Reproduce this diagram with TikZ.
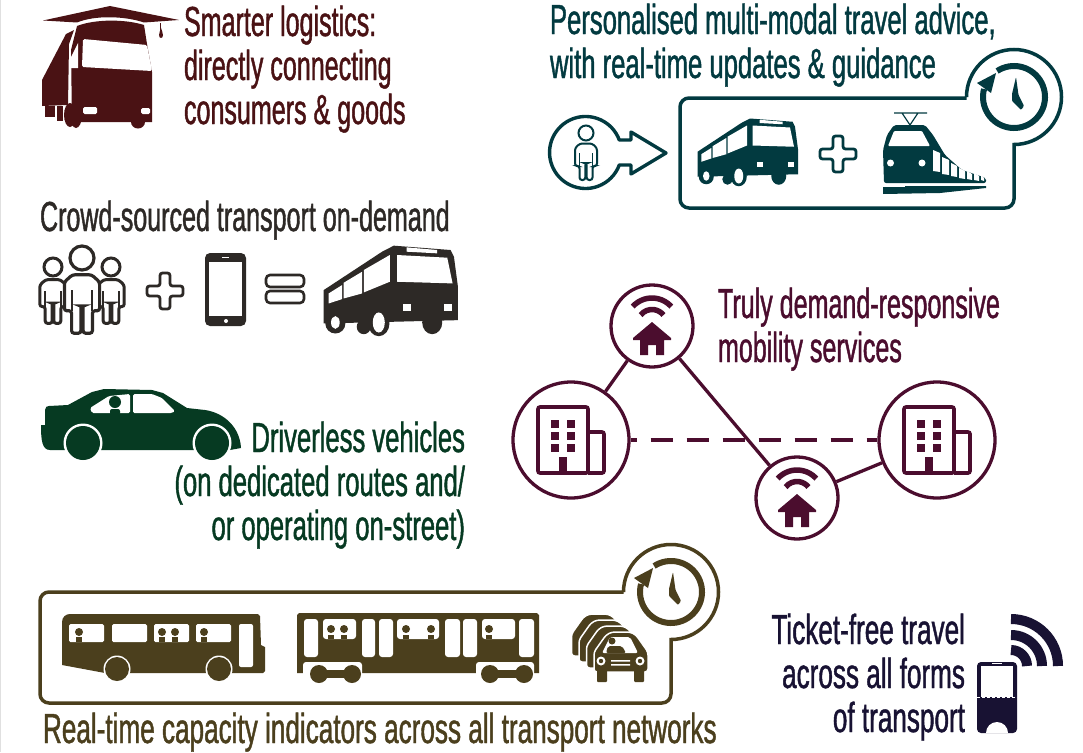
\documentclass[tikz,border=0pt]{standalone}
\usepackage{fontspec}
\setmainfont{Liberation Sans}
\newfontfamily\capfont[FakeStretch=0.61,FakeBold=1.0]{Liberation Sans}
\newfontfamily\capnarrow[FakeStretch=0.597,FakeBold=1.0]{Liberation Sans}
\newfontfamily\capwide[FakeStretch=0.622,FakeBold=1.0]{Liberation Sans}
\definecolor{truckc}{HTML}{4A1214}
\definecolor{tealc}{HTML}{023A40}
\definecolor{darkc}{HTML}{2D2926}
\definecolor{carc}{HTML}{063A22}
\definecolor{plumc}{HTML}{4B0D2E}
\definecolor{olivec}{HTML}{4B3F1D}
\definecolor{navyc}{HTML}{181233}
\tikzset{
 label/.style={font=\capfont\fontsize{42}{44}\selectfont,inner sep=0pt,outer sep=0pt},
 lblL/.style={label,align=left,anchor=base west},
 lblR/.style={label,align=right,anchor=base east},
 narrow/.style={font=\capnarrow\fontsize{42}{44}\selectfont},
 wide/.style={font=\capwide\fontsize{42}{44}\selectfont},
 bigc/.style={circle,draw=plumc,line width=3.3pt,fill=white,minimum size=116pt,inner sep=0pt},
 smallc/.style={circle,draw=plumc,line width=3.3pt,fill=white,minimum size=82pt,inner sep=0pt},
 link/.style={draw=plumc,line width=3.3pt},
}
% bus seen from three-quarter view
\newcommand{\busicon}[4]{%
 \begin{scope}[shift={(#1,#2)},scale=#3]
  \fill[#4] (2,135)--(177,20)--(212,2)--(382,15)--(392,35)--(404,125)--(404,225)--(2,235)--cycle;
  \fill[#4] (37,235) ellipse (30 and 30);
  \fill[#4] (122,245) ellipse (21 and 22);
  \fill[#4] (167,235) ellipse (32 and 38);
  \fill[#4] (327,232) ellipse (30 and 35);
  \fill[white] (37,232) ellipse (13 and 19);
  \fill[white] (167,232) ellipse (18 and 30);
  \fill[white] (222,30)--(372,38)--(388,115)--(222,110)--cycle;
  \fill[white] (200,30)--(200,110)--(122,142)--(122,75)--cycle;
  \fill[white] (117,80)--(117,145)--(62,160)--(62,113)--cycle;
  \fill[white] (57,120)--(57,162)--(17,175)--(17,145)--cycle;
  \fill[white] (250,7)--(342,15)--(342,25)--(250,20)--cycle;
  \fill[white] (239,177) rectangle (264,197);
  \fill[white] (362,177) rectangle (387,197);
 \end{scope}}
% clock badge
\newcommand{\clockicon}[3]{%
 \begin{scope}[shift={(#1,#2)}]
  \draw[#3,line width=6pt] (237:31) arc[start angle=237,end angle=555,radius=31];
  \fill[#3] (-18,-24)--(-37,-14)--(-23,-4)--cycle;
  \fill[#3,rounded corners=1pt] (2,-20)--(4.5,-2)--(10,9)--(7,13)--(-2,4)--(-2,-3)--cycle;
 \end{scope}}
\newcommand{\plusicon}[3]{%
 \draw[#3,line width=2.8pt,rounded corners=2.5pt,fill=white,shift={(#1,#2)}]
  (-5,-18)--(5,-18)--(5,-5)--(18,-5)--(18,5)--(5,5)--(5,18)--(-5,18)--(-5,5)--(-18,5)--(-18,-5)--(-5,-5)--cycle;}
% outlined person; origin at the head centre
\newcommand{\personicon}[5]{%
 \begin{scope}[shift={(#1,#2)},scale=#3]
  \draw[#4,line width=#5,fill=white,rounded corners=2.5pt]
   (-6,10.5)--(-11,15)--(-11,33)--(-6.5,33)--(-6.5,47)--(-.7,47)--(-.7,30)--(.7,30)--(.7,47)--(6.5,47)--(6.5,33)--(11,33)--(11,15)--(6,10.5)--cycle;
  \draw[#4,line width=#5,fill=white] (0,0) circle (7.5);
  \draw[#4,line width=.6*#5] (-6.5,20)--(-6.5,33) (6.5,20)--(6.5,33);
 \end{scope}}
\newcommand{\wifihouse}[2]{%
 \begin{scope}[shift={(#1,#2-2)}]
  \draw[plumc,line width=5.5pt] (222:26) arc[start angle=222,end angle=318,radius=26];
  \draw[plumc,line width=5.5pt] (218:14.5) arc[start angle=218,end angle=322,radius=14.5];
 \end{scope}
 \begin{scope}[shift={(#1,#2)}]
  \fill[plumc] (0,-4)--(19,12)--(19,14)--(12,14)--(12,29)--(4,29)--(4,19)--(-4,19)--(-4,29)--(-12,29)--(-12,14)--(-19,14)--(-19,12)--cycle;
 \end{scope}}
\newcommand{\buildingicon}[2]{%
 \begin{scope}[shift={(#1,#2)}]
  \draw[plumc,line width=3.6pt,rounded corners=2pt] (-33,-33) rectangle (17,33);
  \draw[plumc,line width=3.6pt,rounded corners=2pt] (17,-8)--(33,-8)--(33,33)--(17,33);
  \foreach \yy in {-20,-8,4}{\fill[plumc] (-20,\yy) rectangle (-12,\yy+8); \fill[plumc] (-4,\yy) rectangle (4,\yy+8);}
  \fill[plumc] (-12,17) rectangle (-4,33);
 \end{scope}}
\begin{document}
\begin{tikzpicture}[x=1pt,y=-1pt]
\clip (0,0) rectangle (1083,752);
\useasboundingbox (0,0) rectangle (1083,752);
\fill[white] (0,0) rectangle (1083,752);
\fill[black!12] (0,0) rectangle (1.2,752);

%% ---- truck
\fill[truckc] (43,20.5)--(110,6)--(179,20)--(144,22.5) .. controls (125,16) and (95,15) .. (77,22.5)--cycle;
\fill[truckc] (160,23) rectangle (161,30);
\fill[truckc] (161,28) .. controls (163,33) and (164,38) .. (161,38) .. controls (158,38) and (159,33) .. (161,28)--cycle;
\fill[truckc] (77,26) .. controls (95,19) and (125,19) .. (144,25)--(147,44)--(152,72)--(152,122)--(72,122)--(71,50)--cycle;
\fill[truckc] (42,80)--(66,34)--(74,30)--(69,44)--(68,105)--(42,106)--cycle;
\fill[truckc] (45,106) rectangle (55,117);
\fill[truckc] (57,106) rectangle (63,121);
\fill[truckc] (70,115) ellipse (6 and 12);
\fill[truckc] (76,115) ellipse (6 and 13);
\fill[truckc] (138,122) ellipse (7 and 6.5);
\fill[white,rounded corners=1.5pt] (83,39)--(147,45)--(152,71)--(82,67)--cycle;
\fill[white] (78,43)--(71,57)--(71,68)--(78,68)--cycle;
\fill[white,rounded corners=1.5pt] (83,107) rectangle (97,114);
\fill[white,rounded corners=1.5pt] (141,108) rectangle (150,114);
\node[lblL,narrow,text=truckc] (t1) at (184,124) {Smarter logistics:\\directly connecting\\consumers \& goods};

%% ---- travel advice
\node[lblL,text=tealc] (t2) at (550,78) {Personalised multi-modal travel advice,\\with real-time updates \& guidance};
\draw[tealc,line width=3.5pt,fill=white] (966.5,98)--(689,98) arc[start angle=270,end angle=180,radius=9]--(680,199) arc[start angle=180,end angle=90,radius=9]--(1005,208) arc[start angle=90,end angle=0,radius=9]--(1014,144.5) arc[start angle=90,end angle=-180,radius=47.5];
\clockicon{1014}{97}{tealc}
% person + arrow outline
\draw[tealc,line width=3.4pt,line join=round] (619.3,140) arc[start angle=-20.3,end angle=-339.7,radius=36]--(631,165)--(631,174)--(666,153)--(631,132)--(631,140)--cycle;
\personicon{586}{133}{1}{tealc}{2pt}
\busicon{697}{118}{.25}{tealc}
\plusicon{838}{154}{tealc}
% train
\begin{scope}[tealc]
 \draw[line width=1.2pt] (894,113)--(927,113) (902,113)--(910,125)--(918,113);
 \fill[rounded corners=2pt] (884,183)--(883,150)--(887,135)--(894,125)--(925,125)--(933,135)--(945,155)--(962,170)--(986,178)--(986,183)--cycle;
 \fill[white,rounded corners=1pt] (894,131)--(922,131)--(930,146)--(888,146)--cycle;
 \fill[white] (890.5,163) circle (3.5) (922,163) circle (3.5);
 \foreach \a/\b/\c/\d in {933/940/150/172,942/949/157/175,951/957/163/177,959/965/168/179,967/972/171/180,974/979/173/181,981/984/175/181}
  {\fill[white] (\a,\c)--(\b,\c+3)--(\b,\d)--(\a,\d-1)--cycle;}
 \fill (883,187)--(905,187)--(905,186)--(945,186)--(986,186)--(986,188)--(940,193)--(883,194)--cycle;
\end{scope}

%% ---- crowd
\node[lblL,narrow,text=darkc] (t3) at (40,231) {Crowd-sourced transport on-demand};
\personicon{53}{267}{1.2}{darkc}{3pt}
\personicon{111}{267}{1.2}{darkc}{3pt}
\personicon{82}{258}{1.6}{darkc}{3.2pt}
\plusicon{165}{291}{darkc}
\fill[darkc,rounded corners=5pt] (205,253) rectangle (246,326);
\fill[white] (209,262) rectangle (242,316);
\fill[white] (222,256.5) rectangle (229,258);
\fill[white] (226,321) circle (2);
\draw[darkc,line width=2.6pt,rounded corners=4pt,fill=white] (266,275) rectangle (304,287);
\draw[darkc,line width=2.6pt,rounded corners=4pt,fill=white] (266,291) rectangle (304,303);
\busicon{323}{245}{.334}{darkc}

%% ---- driverless car
\fill[carc] (41,425)--(45,425)--(45,410) .. controls (45,407) and (47,406) .. (49,406)--(68,405)--(92,392)--(104,389)--(152,390)--(163,393)--(187,408)--(205,410) .. controls (225,413) and (240,428) .. (241,448)--(230,450)--(50,450) .. controls (42,450) and (41,440) .. (41,425)--cycle;
\fill[white] (83,443) circle (19.5) (212,443) circle (19.5);
\fill[carc] (83,443) circle (17) (212,443) circle (17);
\fill[white,rounded corners=1.5pt] (90,408)--(109,396)--(130,394)--(130,413)--(92,413)--cycle;
\fill[white,rounded corners=1.5pt] (133,394)--(152,394)--(162,398)--(175,411)--(172,413)--(133,413)--cycle;
\fill[carc] (115,402) circle (6);
\fill[carc,rounded corners=2pt] (110,409) rectangle (120,415);
\node[lblR,text=carc] (t4) at (465,540) {Driverless vehicles\\(on dedicated routes and/\\or operating on-street)};

%% ---- demand-responsive network
\node[bigc] (b1) at (571,440) {};
\node[bigc] (b2) at (937,440) {};
\node[smallc] (h1) at (652,326) {};
\node[smallc] (h2) at (797,498) {};
\draw[link] (b1)--(h1);
\draw[link] (h1)--(h2);
\draw[link] (h2)--(b2);
\draw[link,dash pattern=on 22pt off 14pt,dash phase=16pt] (b1)--(b2);
\buildingicon{571}{440}
\buildingicon{937}{440}
\wifihouse{652}{326}
\wifihouse{797}{498}
\node[lblL,narrow,text=plumc] (t5) at (718,362) {Truly demand-responsive\\mobility services};

%% ---- capacity box
\draw[olivec,line width=3.5pt,fill=white] (623.5,592)--(49,592) arc[start angle=270,end angle=180,radius=9]--(40,694) arc[start angle=180,end angle=90,radius=9]--(662,703) arc[start angle=90,end angle=0,radius=9]--(671,639.5) arc[start angle=90,end angle=-180,radius=47.5];
\clockicon{671}{592}{olivec}
% bus
\begin{scope}[olivec]
 \fill (62,665)--(62,622) .. controls (62,617) and (66,614) .. (70,614)--(258,614)--(260,616)--(261,645)--(265,647)--(265,671)--(263,673)--(105,673)--cycle;
 \foreach \x in {117,219}{\fill[white] (\x,669) circle (13.5); \fill (\x,669) circle (12);}
 \fill[white,rounded corners=1.5pt] (69,624) rectangle (104,642);
 \fill[white,rounded corners=1.5pt] (112,624) rectangle (147,642);
 \fill[white,rounded corners=1.5pt] (154,624) rectangle (189,642);
 \fill[white,rounded corners=1.5pt] (196,624) rectangle (231,642);
 \fill[white,rounded corners=2pt] (239,624) rectangle (253,667);
 \foreach \x in {79,162,175,204}{\fill (\x,632) circle (4); \fill (\x-3,637) rectangle (\x+3,642);}
\end{scope}
% tram
\begin{scope}[olivec]
 \fill (297,615)--(299,613)--(537,613)--(539,615)--(539,673)--(297,673)--cycle;
 \fill[white,rounded corners=3pt] (303,662) rectangle (362,680);
 \fill[white,rounded corners=3pt] (476,662) rectangle (534,680);
 \foreach \l/\r in {304/318,362/375,379/393,445/460,463/477,519/534}{\fill[white,rounded corners=3pt] (\l,619) rectangle (\r,657);}
 \foreach \l/\r in {323/356,397/439,482/515}{\fill[white,rounded corners=3pt] (\l,619) rectangle (\r,639);}
 \foreach \x in {331,344,406,431,489}{\fill (\x,629) circle (4); \fill (\x-3,635) rectangle (\x+3,639);}
 \foreach \a/\b in {319/352,490/524}{\fill (\a,674) circle (9) (\b,674) circle (9); \fill (\a,670) rectangle (\b,678);}
\end{scope}
% stacked cars
\begin{scope}[olivec]
 \foreach \k in {3,2,1}{
  \begin{scope}[shift={(-7.5*\k,-6*\k)}]
   \draw[white,line width=1.5pt,fill=olivec,rounded corners=3pt] (594,674)--(594,652)--(606,635)--(612,632)--(630,632)--(636,635)--(648,652)--(648,674)--cycle;
  \end{scope}}
 \draw[white,line width=1.5pt,fill=olivec,rounded corners=3pt] (594,672)--(594,652)--(606,635)--(612,632)--(630,632)--(636,635)--(648,652)--(648,672)--cycle;
 \fill[rounded corners=1pt] (597,670) rectangle (607,682);
 \fill[rounded corners=1pt] (634,670) rectangle (644,682);
 \fill[white,rounded corners=2pt] (602,653)--(610,637)--(630,637)--(638,653)--cycle;
 \fill (612,641) circle (3.5);
 \fill[rounded corners=2pt] (606,653)--(608,646)--(622,646)--(626,653)--cycle;
 \fill[white] (601,661) circle (4.5) (640,661) circle (4.5);
 \fill (601,661) circle (2.2) (640,661) circle (2.2);
 \fill[white] (611,660) rectangle (630,661.5) (611,664) rectangle (630,665.5);
\end{scope}
\node[lblL,wide,text=olivec] (t6) at (43,743) {Real-time capacity indicators across all transport networks};

%% ---- ticket
\node[lblR,wide,text=navyc] (t7) at (965,732) {Ticket-free travel\\across all forms\\of transport};
\begin{scope}[navyc]
 \fill[rounded corners=4pt] (977,662) rectangle (1017,733);
 \fill[white] (981,666) rectangle (1013,697);
 \fill[white] (992,663.3) rectangle (1002,664.3);
 \fill[white] (986,733) arc[start angle=180,end angle=360,radius=11]--cycle;
 \draw[white,line width=.8pt,dash pattern=on 3pt off 2pt] (977,697)--(1017,697);
 \foreach \rr/\w in {47/10,31/10,16/10}{\draw[line width=\w pt] (1011,666-\rr) arc[start angle=-90,end angle=0,radius=\rr];}
\end{scope}
\end{tikzpicture}
\end{document}
